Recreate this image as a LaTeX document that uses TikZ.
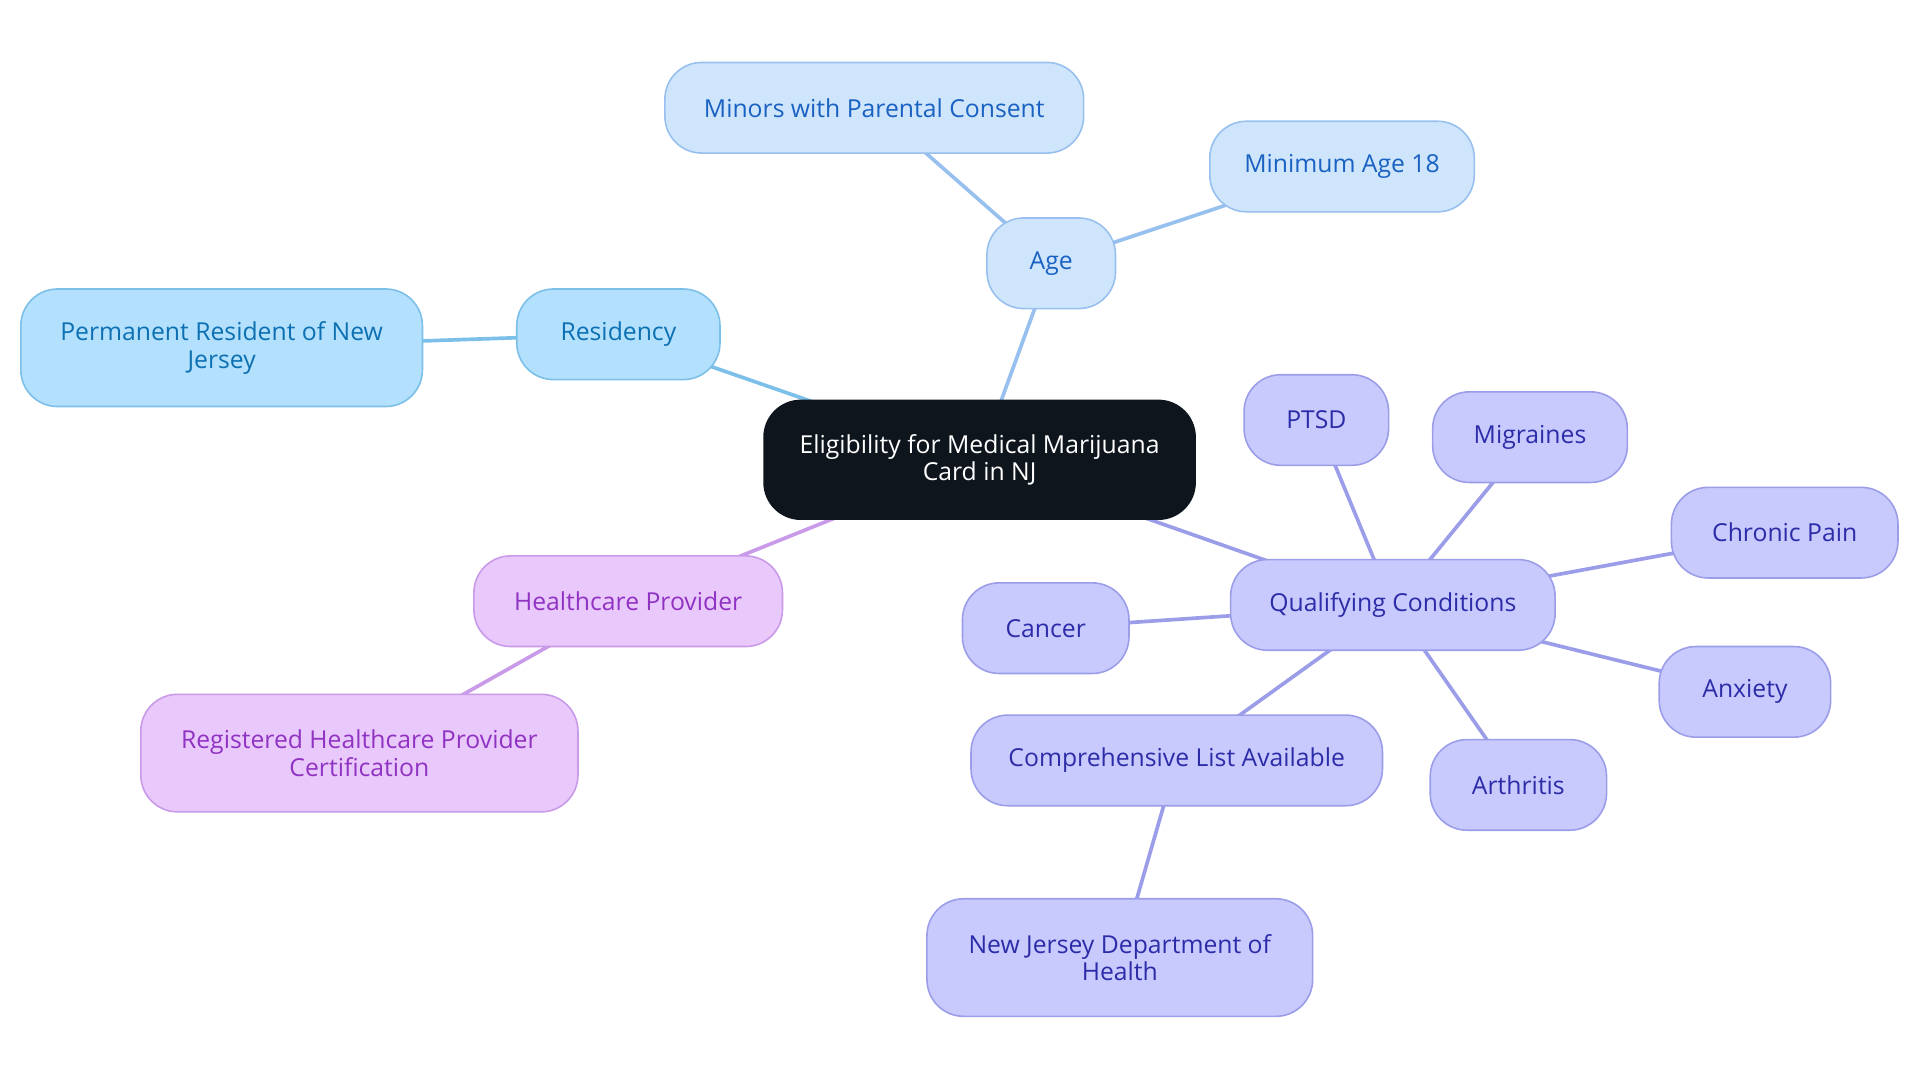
\documentclass[tikz,border=0pt]{standalone}
\usepackage{fontspec}
\setmainfont{Open Sans}
\usetikzlibrary{backgrounds}
\definecolor{rootfill}{HTML}{0E151C}
\definecolor{agefill}{HTML}{CFE5FC}
\definecolor{agedraw}{HTML}{98C0EE}
\definecolor{agetext}{HTML}{1A62C2}
\definecolor{resfill}{HTML}{B3E0FD}
\definecolor{resdraw}{HTML}{7CBFE8}
\definecolor{restext}{HTML}{0C70B2}
\definecolor{hpfill}{HTML}{E9C9FC}
\definecolor{hpdraw}{HTML}{C99AE8}
\definecolor{hptext}{HTML}{9032C2}
\definecolor{qcfill}{HTML}{C8CAFD}
\definecolor{qcdraw}{HTML}{9B9DE8}
\definecolor{qctext}{HTML}{2C2CA8}
\tikzset{
  box/.style={rounded corners=30pt, line width=1.3pt, align=center, inner sep=0pt,
    font=\fontsize{20.2}{22.5}\selectfont},
  rootbox/.style={box, fill=rootfill, draw=rootfill, text=white},
  agebox/.style={box, fill=agefill, draw=agedraw, text=agetext},
  resbox/.style={box, fill=resfill, draw=resdraw, text=restext},
  hpbox/.style={box, fill=hpfill, draw=hpdraw, text=hptext},
  qcbox/.style={box, fill=qcfill, draw=qcdraw, text=qctext},
  ageedge/.style={draw=agedraw, line width=3pt},
  resedge/.style={draw=resdraw, line width=3pt},
  hpedge/.style={draw=hpdraw, line width=3pt},
  qcedge/.style={draw=qcdraw, line width=3pt},
}
\begin{document}
\begin{tikzpicture}[x=1pt,y=-1pt]
\useasboundingbox (0,0) rectangle (1568,884.4);
\node[rootbox, minimum width=352pt, minimum height=97pt] (root) at (800,375.5) {Eligibility for Medical Marijuana\\Card in NJ};
\node[agebox, minimum width=105pt, minimum height=74pt] (age) at (858.5,215) {Age};
\node[agebox, minimum width=342pt, minimum height=74pt] (minors) at (714,88) {Minors with Parental Consent};
\node[agebox, minimum width=216pt, minimum height=74pt] (minage) at (1096,136) {Minimum Age 18};
\node[resbox, minimum width=166pt, minimum height=74pt] (res) at (505,273) {Residency};
\node[resbox, minimum width=328pt, minimum height=96pt] (perm) at (181,284) {Permanent Resident of New\\Jersey};
\node[hpbox, minimum width=252pt, minimum height=74pt] (hp) at (513,491) {Healthcare Provider};
\node[hpbox, minimum width=357pt, minimum height=96pt] (reg) at (293.5,615) {Registered Healthcare Provider\\Certification};
\node[qcbox, minimum width=265pt, minimum height=74pt] (qc) at (1137.5,494) {Qualifying Conditions};
\node[qcbox, minimum width=118pt, minimum height=74pt] (ptsd) at (1075,343) {PTSD};
\node[qcbox, minimum width=159pt, minimum height=74pt] (mig) at (1249.5,357) {Migraines};
\node[qcbox, minimum width=185pt, minimum height=74pt] (chronic) at (1457.5,435) {Chronic Pain};
\node[qcbox, minimum width=140pt, minimum height=74pt] (anx) at (1425,565) {Anxiety};
\node[qcbox, minimum width=144pt, minimum height=74pt] (arth) at (1240,641) {Arthritis};
\node[qcbox, minimum width=136pt, minimum height=74pt] (cancer) at (854,513) {Cancer};
\node[qcbox, minimum width=336pt, minimum height=74pt] (comp) at (961,621) {Comprehensive List Available};
\node[qcbox, minimum width=315pt, minimum height=96pt] (njdoh) at (914.5,782) {New Jersey Department of\\Health};
\begin{pgfonlayer}{background}
\draw[ageedge] (root.center) -- (age.center);
\draw[ageedge] (age.center) -- (minors.center);
\draw[ageedge] (age.center) -- (minage.center);
\draw[resedge] (root.center) -- (res.center);
\draw[resedge] (res.center) -- (perm.center);
\draw[hpedge] (root.center) -- (hp.center);
\draw[hpedge] (hp.center) -- (reg.center);
\draw[qcedge] (root.center) -- (qc.center);
\draw[qcedge] (qc.center) -- (ptsd.center);
\draw[qcedge] (qc.center) -- (mig.center);
\draw[qcedge] (qc.center) -- (chronic.center);
\draw[qcedge] (qc.center) -- (anx.center);
\draw[qcedge] (qc.center) -- (arth.center);
\draw[qcedge] (qc.center) -- (cancer.center);
\draw[qcedge] (qc.center) -- (comp.center);
\draw[qcedge] (comp.center) -- (njdoh.center);
\end{pgfonlayer}
\end{tikzpicture}
\end{document}
